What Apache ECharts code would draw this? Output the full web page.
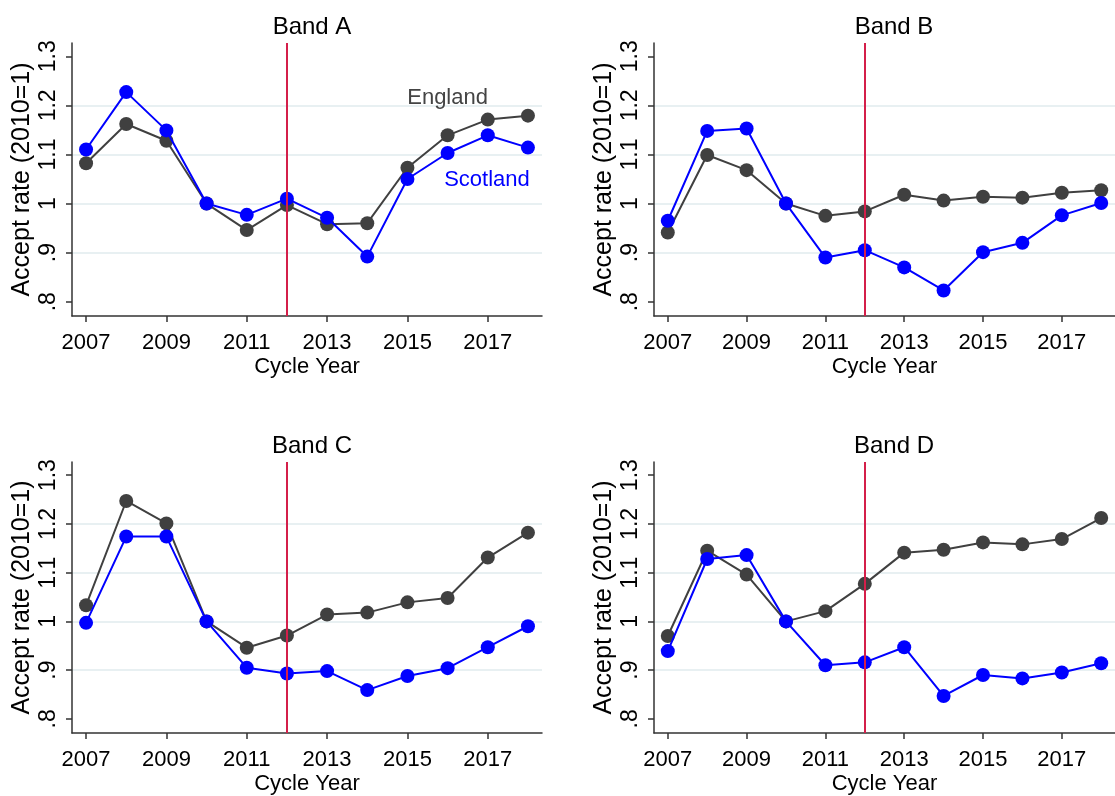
<!DOCTYPE html>
<html>
<head>
<meta charset="utf-8">
<script src="https://cdn.jsdelivr.net/npm/echarts@6/dist/echarts.min.js"></script>
<style>
  html, body { margin: 0; padding: 0; background: #fff; }
  #main { width: 1115px; height: 796px; }
</style>
</head>
<body>
<div id="main"></div>
<script>
const years = [2007, 2008, 2009, 2010, 2011, 2012, 2013, 2014, 2015, 2016, 2017, 2018];
const yearTicks = [2007, 2009, 2011, 2013, 2015, 2017];
const rateTicks = [0.8, 0.9, 1, 1.1, 1.2, 1.3];
const bands = ['Band A', 'Band B', 'Band C', 'Band D'];

const englandA = [1.082, 1.162, 1.128, 1.0, 0.946, 0.997, 0.958, 0.960, 1.073, 1.139, 1.171, 1.179];
const scotlandA = [1.110, 1.227, 1.149, 1.0, 0.977, 1.010, 0.971, 0.892, 1.050, 1.103, 1.139, 1.114];
const englandB = [0.941, 1.099, 1.068, 1.0, 0.975, 0.984, 1.018, 1.006, 1.014, 1.012, 1.022, 1.027];
const scotlandB = [0.965, 1.148, 1.153, 1.0, 0.890, 0.905, 0.870, 0.823, 0.901, 0.920, 0.976, 1.001];
const englandC = [1.033, 1.247, 1.201, 1.0, 0.946, 0.971, 1.014, 1.018, 1.039, 1.048, 1.131, 1.182];
const scotlandC = [0.997, 1.174, 1.174, 1.0, 0.905, 0.893, 0.898, 0.859, 0.888, 0.904, 0.947, 0.990];
const englandD = [0.970, 1.145, 1.096, 1.0, 1.021, 1.077, 1.141, 1.147, 1.162, 1.158, 1.169, 1.212];
const scotlandD = [0.939, 1.128, 1.136, 1.0, 0.910, 0.916, 0.947, 0.847, 0.890, 0.883, 0.895, 0.914];

const englandAll = [englandA, englandB, englandC, englandD];
const scotlandAll = [scotlandA, scotlandB, scotlandC, scotlandD];
const policyYear = 2012;

const FONT = 'Liberation Sans, Arial, sans-serif';
const ENG = '#404040';
const SCO = '#0000ff';

function pairs(vals) {
  return years.map((y, i) => [y, vals[i]]);
}

function initChart(dom) {
  const chart = echarts.init(dom, null, { renderer: 'canvas' });

  const grids = [
    { left: 72, top: 43, width: 470, height: 273 },
    { left: 654, top: 43, width: 470, height: 273 },
    { left: 72, top: 462, width: 470, height: 272 },
    { left: 654, top: 462, width: 470, height: 272 }
  ];

  const titles = bands.map((b, i) => ({
    text: b,
    left: grids[i].left + grids[i].width / 2,
    top: grids[i].top - 33,
    textAlign: 'center',
    textStyle: { fontFamily: FONT, fontSize: 24, fontWeight: 'normal', color: '#000' }
  }));

  const xAxes = grids.map((g, i) => ({
    type: 'value',
    gridIndex: i,
    min: 2006.65,
    max: 2018.35,
    name: 'Cycle Year',
    nameLocation: 'middle',
    nameGap: 40,
    nameTextStyle: { fontFamily: FONT, fontSize: 22, color: '#000' },
    axisLine: { show: true, onZero: false, lineStyle: { color: '#333', width: 1.5 } },
    axisTick: { show: true, length: 6, customValues: yearTicks, lineStyle: { color: '#333', width: 1.5 } },
    axisLabel: {
      customValues: yearTicks, margin: 16,
      fontFamily: FONT, fontSize: 22, color: '#000',
      formatter: v => String(v)
    },
    splitLine: { show: false }
  }));

  const yAxes = grids.map((g, i) => ({
    type: 'value',
    gridIndex: i,
    min: 0.771,
    max: 1.327,
    name: 'Accept rate (2010=1)',
    nameLocation: 'middle',
    nameGap: 37,
    nameTextStyle: { fontFamily: FONT, fontSize: 25, color: '#000' },
    axisLine: { show: true, lineStyle: { color: '#333', width: 1.5 } },
    axisTick: { show: true, length: 6, customValues: rateTicks, lineStyle: { color: '#333', width: 1.5 } },
    axisLabel: {
      customValues: rateTicks, rotate: 90, margin: 12,
      fontFamily: FONT, fontSize: 23, color: '#000',
      formatter: v => (Math.abs(v - 1) < 1e-9 ? '1' : String(+v.toFixed(1)).replace(/^0\./, '.'))
    },
    splitLine: { show: true, showMinLine: false, showMaxLine: false, lineStyle: { color: '#e8f0f2', width: 2 } }
  }));

  const series = [];
  grids.forEach((g, i) => {
    const eng = {
      name: 'England',
      type: 'line',
      xAxisIndex: i,
      yAxisIndex: i,
      data: pairs(englandAll[i]),
      symbol: 'circle',
      symbolSize: 14,
      lineStyle: { color: ENG, width: 2 },
      itemStyle: { color: ENG },
      z: 3,
      markLine: {
        silent: true,
        symbol: 'none',
        label: { show: false },
        lineStyle: { color: '#d41f4a', width: 2, type: 'solid' },
        data: [{ xAxis: policyYear }]
      }
    };
    const sco = {
      name: 'Scotland',
      type: 'line',
      xAxisIndex: i,
      yAxisIndex: i,
      data: pairs(scotlandAll[i]),
      symbol: 'circle',
      symbolSize: 14,
      lineStyle: { color: SCO, width: 2 },
      itemStyle: { color: SCO },
      z: 4
    };
    if (i === 0) {
      eng.markPoint = {
        symbol: 'circle', symbolSize: 1, itemStyle: { color: 'rgba(0,0,0,0)' },
        label: { show: true, position: 'inside', formatter: 'England', fontFamily: FONT, fontSize: 22, color: '#444' },
        data: [{ coord: [2016, 1.215] }]
      };
      sco.markPoint = {
        symbol: 'circle', symbolSize: 1, itemStyle: { color: 'rgba(0,0,0,0)' },
        label: { show: true, position: 'inside', formatter: 'Scotland', fontFamily: FONT, fontSize: 22, color: SCO },
        data: [{ coord: [2016.98, 1.048] }]
      };
    }
    series.push(eng, sco);
  });

  var option = {
    backgroundColor: '#ffffff',
    animation: false,
    title: titles,
    grid: grids,
    xAxis: xAxes,
    yAxis: yAxes,
    series: series
  };

  chart.setOption(option, true);
  return chart;
}

initChart(document.getElementById('main'));
</script>
</body>
</html>
